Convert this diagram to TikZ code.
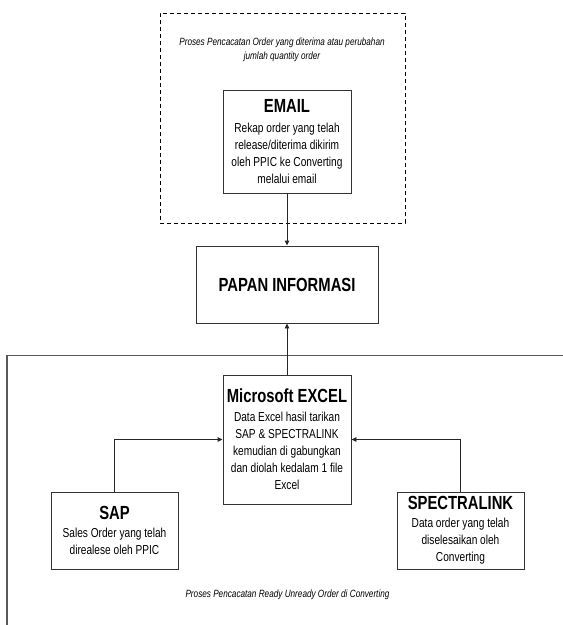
\documentclass[tikz,border=0pt]{standalone}
\usepackage{fontspec}
\setmainfont{Liberation Sans}[FakeStretch=0.78]
\usetikzlibrary{arrows.meta}
\tikzset{
  box/.style={draw=black!80, line width=0.9pt, rectangle, inner sep=0pt, align=center,
    font=\fontsize{13}{17}\selectfont},
  conn/.style={draw=black!85, line width=0.9pt, -{Triangle[width=4.5pt,length=5pt]}},
  lbl/.style={inner sep=0pt, align=center, font=\fontsize{10.5}{14}\selectfont\itshape},
  frame/.style={draw=black!65, line width=1.4pt}
}
\newcommand{\boxtitle}[1]{{\fontsize{19}{20}\selectfont\bfseries #1}}
\begin{document}
\begin{tikzpicture}[x=1pt,y=-1pt]
\useasboundingbox (0,0) rectangle (563,625);
% dashed group
\node[draw=black, line width=0.9pt, dashed, dash pattern=on 4pt off 3pt, minimum width=245pt, minimum height=210pt, inner sep=0pt] (grp) at (282.5,118) {};
\node[lbl] (grplbl) at (282,50) {Proses Pencacatan Order yang diterima atau perubahan\\jumlah quantity order};
% lower frame
\coordinate (f1) at (563,355.5);
\coordinate (f2) at (7,355.5);
\coordinate (f3) at (7,625);
\draw[frame] (f1) -- (f2) -- (f3);
% boxes
\node[box, minimum width=128pt, minimum height=103pt] (email) at (287,141.5)
  {\boxtitle{EMAIL}\\[3pt]Rekap order yang telah\\release/diterima dikirim\\oleh PPIC ke Converting\\melalui email};
\node[box, minimum width=182pt, minimum height=77pt] (papan) at (287,284.5)
  {\boxtitle{PAPAN INFORMASI}};
\node[box, minimum width=128pt, minimum height=129pt] (excel) at (287,439.5)
  {\boxtitle{Microsoft EXCEL}\\[2pt]Data Excel hasil tarikan\\SAP \& SPECTRALINK\\kemudian di gabungkan\\dan diolah kedalam 1 file\\Excel};
\node[box, minimum width=127pt, minimum height=77pt] (sap) at (114.5,530.5)
  {\boxtitle{SAP}\\[1pt]Sales Order yang telah\\direalese oleh PPIC};
\node[box, minimum width=127pt, minimum height=77pt] (spec) at (460.5,530.5)
  {\boxtitle{SPECTRALINK}\\[1pt]Data order yang telah\\diselesaikan oleh\\Converting};
\node[lbl] (lowlbl) at (287.5,595) {Proses Pencacatan Ready Unready Order di Converting};
% connectors
\draw[conn] (email.south) -- (papan.north);
\draw[conn] (excel.north) -- (papan.south);
\draw[conn] (sap.north) |- (excel.west);
\draw[conn] (spec.north) |- (excel.east);
\end{tikzpicture}
\end{document}
